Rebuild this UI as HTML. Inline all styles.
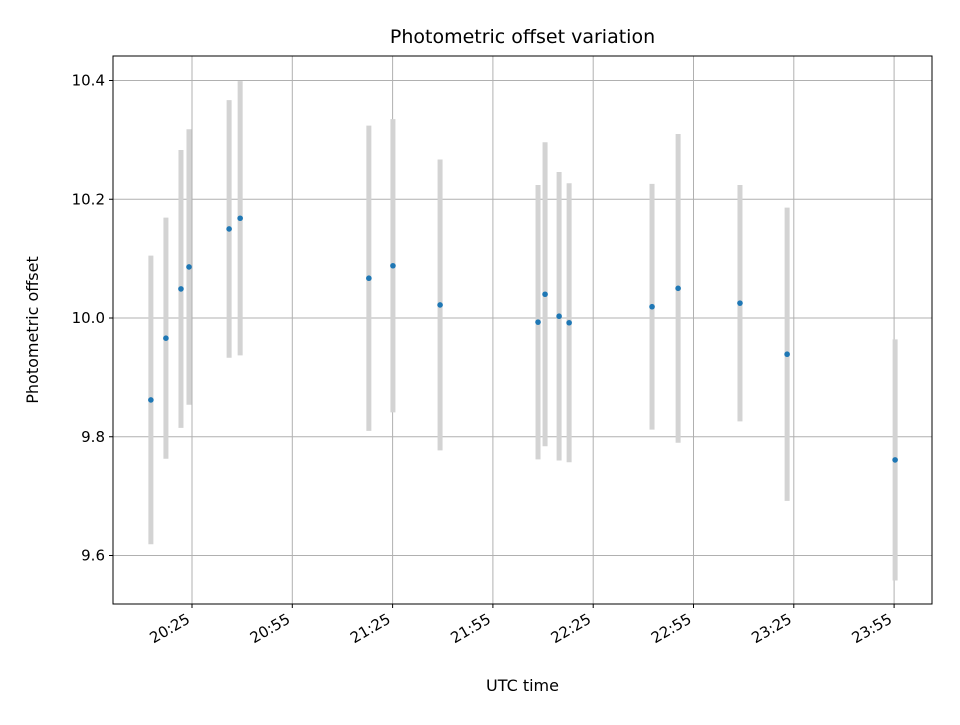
<!DOCTYPE html>
<html><head><meta charset="utf-8"><style>
body{margin:0;background:#fff;font-family:"Liberation Sans","DejaVu Sans",sans-serif;}
text{font-family:"DejaVu Sans","Liberation Sans",sans-serif;}
</style></head><body>
<svg id="chart" width="960" height="720" xmlns="http://www.w3.org/2000/svg"></svg>
<script>
// minutes after 20:00 UTC
const times = [12.7,17.2,21.7,24.1,36.1,39.4,77.9,85.1,99.2,128.5,130.6,134.8,137.8,162.6,170.4,188.9,203.0,235.3];
const offsets = [9.862,9.966,10.049,10.086,10.150,10.168,10.067,10.088,10.022,9.993,10.040,10.003,9.992,10.019,10.050,10.025,9.939,9.761];
const errors = [0.243,0.203,0.234,0.232,0.217,0.231,0.257,0.247,0.245,0.231,0.256,0.243,0.235,0.207,0.260,0.199,0.247,0.203];
const yTicks = [9.6,9.8,10.0,10.2,10.4];
const yTickLabels = ["9.6","9.8","10.0","10.2","10.4"];
const xTicks = [25,55,85,115,145,175,205,235];
const xTickLabels = ["20:25","20:55","21:25","21:55","22:25","22:55","23:25","23:55"];

const L=113,R=932,T=56,B=604;
const xs = t => 192 + (t-25)*(100.3/30);
const ys = v => 318 - (v-10)*593.75;
const svg=document.getElementById('chart');
const NS='http://www.w3.org/2000/svg';
function mk(tag,attrs,parent){const e=document.createElementNS(NS,tag);for(const k in attrs)e.setAttribute(k,attrs[k]);(parent||svg).appendChild(e);return e;}

const grid=mk('g',{});


yTicks.forEach((v,i)=>{
  const y=ys(v);
  mk('line',{x1:L,x2:R,y1:y,y2:y,stroke:'#b0b0b0','stroke-width':1},grid);
  mk('line',{x1:L-4,x2:L,y1:y,y2:y,stroke:'#000'},grid);
  const t=mk('text',{x:L-8,y:y+5,'text-anchor':'end','font-size':15},grid);
  
  
  t.textContent=yTickLabels[i];
});
xTicks.forEach((m,i)=>{
  const x=xs(m);
  mk('line',{x1:x,x2:x,y1:T,y2:B,stroke:'#b0b0b0','stroke-width':1},grid);
  mk('line',{x1:x,x2:x,y1:B,y2:B+4,stroke:'#000'},grid);
  const ax=x-1, ay=B+18;
  const t=mk('text',{x:ax,y:ay,'text-anchor':'end','font-size':15,transform:`rotate(-30 ${ax} ${ay})`},grid);
  
  
  t.textContent=xTickLabels[i];
});

const series=mk('g',{});


times.forEach((m,i)=>{
  const x=xs(m);
  const bar=mk('line',{x1:x,x2:x,y1:ys(offsets[i]+errors[i]),y2:ys(offsets[i]-errors[i]),stroke:'#d3d3d3','stroke-width':5},series);
  
  
});
times.forEach((m,i)=>{
  const p=mk('circle',{cx:xs(m),cy:ys(offsets[i]),r:2.8,fill:'#1f77b4'},series);
  
  
});

const frame=mk('rect',{x:L,y:T,width:R-L,height:B-T,fill:'none',stroke:'#000','stroke-width':1});



const title=mk('text',{x:(L+R)/2,y:43,'text-anchor':'middle','font-size':19});


title.textContent='Photometric offset variation';
const xl=mk('text',{x:(L+R)/2,y:691,'text-anchor':'middle','font-size':16});


xl.textContent='UTC time';
const yl=mk('text',{x:38,y:330,'text-anchor':'middle','font-size':16,transform:'rotate(-90 38 330)'});


yl.textContent='Photometric offset';
</script>
</body></html>
